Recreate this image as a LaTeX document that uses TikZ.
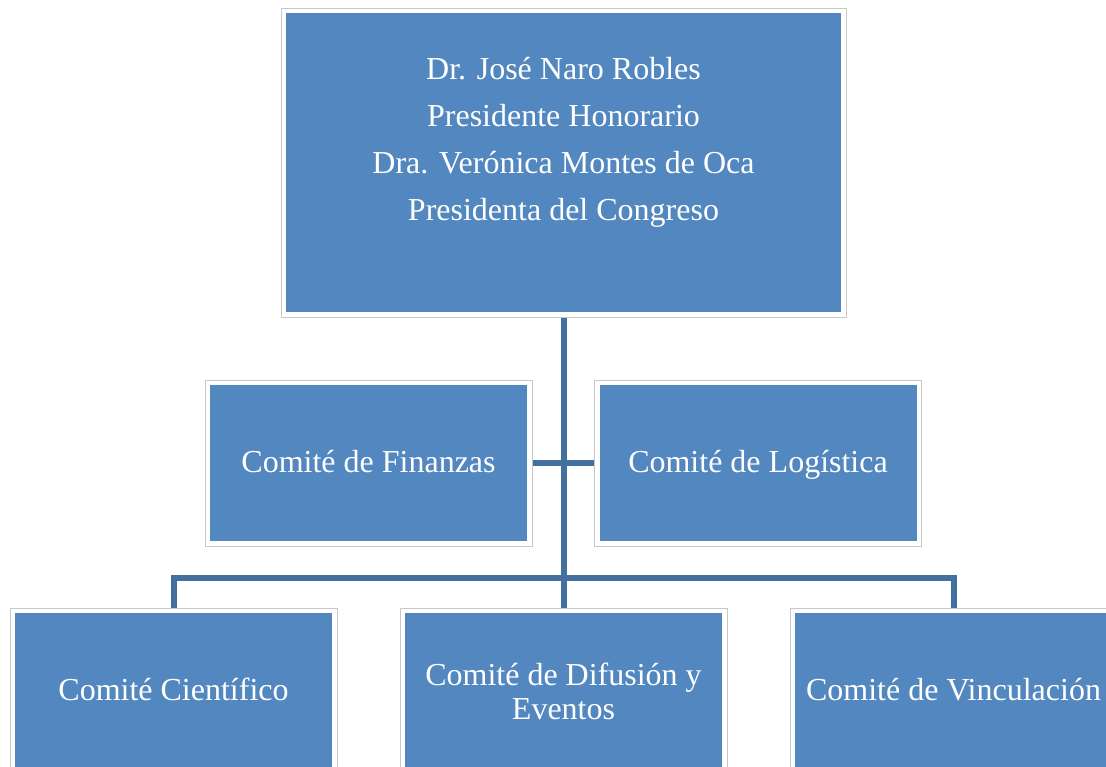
\documentclass[tikz,border=0pt]{standalone}
\usepackage{fontspec}
\setmainfont{Liberation Serif}
\usepackage{tikz}
\usetikzlibrary{positioning,backgrounds}

\definecolor{boxblue}{HTML}{5387C0}
\definecolor{linkblue}{HTML}{44709F}
\definecolor{framegray}{HTML}{C8C8C8}

\begin{document}
\begin{tikzpicture}[x=1pt, y=-1pt,
    box/.style={rectangle, draw=framegray, line width=0.8pt, fill=white, text=white,
        align=center, font=\fontsize{32}{47}\selectfont, inner sep=0pt,
        minimum width=327pt, minimum height=166pt,
        path picture={\fill[boxblue] ([shift={(5pt,-5pt)}]path picture bounding box.north west)
            rectangle ([shift={(-5pt,5pt)}]path picture bounding box.south east);}},
    link/.style={draw=linkblue, line width=6pt}]
                \useasboundingbox (0,0) rectangle (1106,767);

                \node (pres) [box, minimum width=565pt, minimum height=309pt] at (563.5,162.5)
                    {Dr. José Naro Robles\\Presidente Honorario\\Dra. Verónica Montes de Oca\\Presidenta del Congreso\\~};
                \node (fin) [box] at (368.5,463) {\strut Comité de Finanzas};
                \node (log) [box] at (758,463) {\strut Comité de Logística};
                \node (cie) [box] at (173.5,691) {\strut Comité Científico};
                \node (dif) [box, font=\fontsize{32}{34}\selectfont] at (563.5,691) {Comité de Difusión y\\Eventos};
                \node (vin) [box] at (953.5,691) {\strut Comité de Vinculación};

                \coordinate (bus) at (563.5,578);

                \begin{scope}[on background layer]
			\draw[link] (pres) -- (dif);
			\draw[link] (fin) -- (log);
                \draw[link] (cie.north) |- (bus) -| (vin.north);
                \end{scope}
	\end{tikzpicture}
\end{document}
